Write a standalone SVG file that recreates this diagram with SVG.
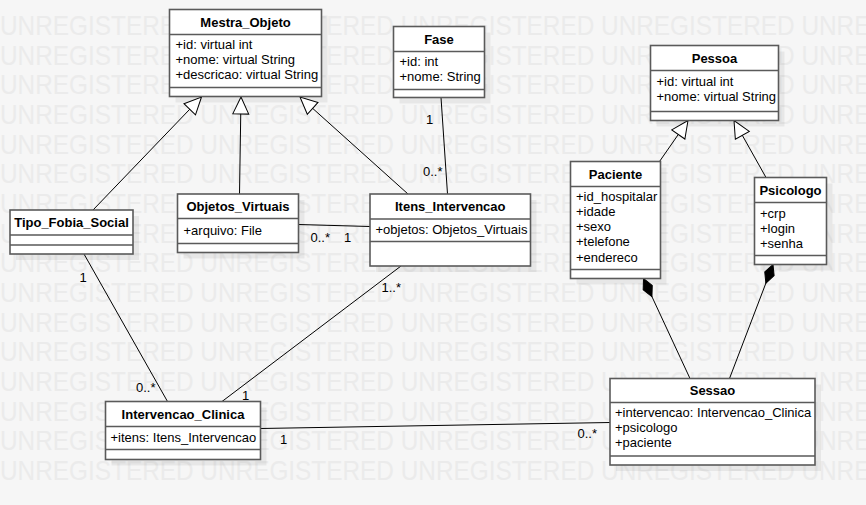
<svg xmlns="http://www.w3.org/2000/svg" width="866" height="505" viewBox="0 0 866 505">
<style>
.wm{font-family:"Liberation Sans",Arial,sans-serif;font-size:28px;fill:#ebebeb}
.box{fill:#ffffff;stroke:#5a5a5a;stroke-width:1.6}
.sep{stroke:#5a5a5a;stroke-width:1.6;fill:none}
.shadow{fill:#000000;fill-opacity:0.06}
.title{font-family:"Liberation Sans",Arial,sans-serif;font-size:13px;font-weight:bold;fill:#000;text-anchor:middle}
.attr{font-family:"Liberation Sans",Arial,sans-serif;font-size:13px;fill:#000}
.lbl{font-family:"Liberation Sans",Arial,sans-serif;font-size:13px;fill:#000}
.edge{stroke:#000;stroke-width:1;fill:none}
.inh{marker-end:url(#tri)}
.comp{marker-end:url(#dia)}
</style>
<defs>
<marker id="tri" markerUnits="userSpaceOnUse" viewBox="-1 -1 20 19" markerWidth="20" markerHeight="19" refX="17" refY="8" orient="auto">
<path d="M0,0 L17,8 L0,16 Z" fill="#fff" stroke="#000" stroke-width="1"/>
</marker>
<marker id="dia" markerUnits="userSpaceOnUse" viewBox="-1 -1 22 12" markerWidth="22" markerHeight="12" refX="20" refY="5" orient="auto">
<path d="M0,5 L10,0 L20,5 L10,10 Z" fill="#000" stroke="#000" stroke-width="1"/>
</marker>
</defs>
<rect x="0" y="0" width="866" height="505" fill="#f6f6f6"/>
<g id="watermark">
<text class="wm" x="0" y="35" textLength="995" lengthAdjust="spacingAndGlyphs">UNREGISTERED UNREGISTERED UNREGISTERED UNREGISTERED UNREGISTERED</text>
<text class="wm" x="0" y="64.7" textLength="995" lengthAdjust="spacingAndGlyphs">UNREGISTERED UNREGISTERED UNREGISTERED UNREGISTERED UNREGISTERED</text>
<text class="wm" x="0" y="94.3" textLength="995" lengthAdjust="spacingAndGlyphs">UNREGISTERED UNREGISTERED UNREGISTERED UNREGISTERED UNREGISTERED</text>
<text class="wm" x="0" y="124" textLength="995" lengthAdjust="spacingAndGlyphs">UNREGISTERED UNREGISTERED UNREGISTERED UNREGISTERED UNREGISTERED</text>
<text class="wm" x="0" y="153.7" textLength="995" lengthAdjust="spacingAndGlyphs">UNREGISTERED UNREGISTERED UNREGISTERED UNREGISTERED UNREGISTERED</text>
<text class="wm" x="0" y="183.3" textLength="995" lengthAdjust="spacingAndGlyphs">UNREGISTERED UNREGISTERED UNREGISTERED UNREGISTERED UNREGISTERED</text>
<text class="wm" x="0" y="213" textLength="995" lengthAdjust="spacingAndGlyphs">UNREGISTERED UNREGISTERED UNREGISTERED UNREGISTERED UNREGISTERED</text>
<text class="wm" x="0" y="242.7" textLength="995" lengthAdjust="spacingAndGlyphs">UNREGISTERED UNREGISTERED UNREGISTERED UNREGISTERED UNREGISTERED</text>
<text class="wm" x="0" y="272.3" textLength="995" lengthAdjust="spacingAndGlyphs">UNREGISTERED UNREGISTERED UNREGISTERED UNREGISTERED UNREGISTERED</text>
<text class="wm" x="0" y="302" textLength="995" lengthAdjust="spacingAndGlyphs">UNREGISTERED UNREGISTERED UNREGISTERED UNREGISTERED UNREGISTERED</text>
<text class="wm" x="0" y="331.7" textLength="995" lengthAdjust="spacingAndGlyphs">UNREGISTERED UNREGISTERED UNREGISTERED UNREGISTERED UNREGISTERED</text>
<text class="wm" x="0" y="361.3" textLength="995" lengthAdjust="spacingAndGlyphs">UNREGISTERED UNREGISTERED UNREGISTERED UNREGISTERED UNREGISTERED</text>
<text class="wm" x="0" y="391" textLength="995" lengthAdjust="spacingAndGlyphs">UNREGISTERED UNREGISTERED UNREGISTERED UNREGISTERED UNREGISTERED</text>
<text class="wm" x="0" y="420.7" textLength="995" lengthAdjust="spacingAndGlyphs">UNREGISTERED UNREGISTERED UNREGISTERED UNREGISTERED UNREGISTERED</text>
<text class="wm" x="0" y="450.3" textLength="995" lengthAdjust="spacingAndGlyphs">UNREGISTERED UNREGISTERED UNREGISTERED UNREGISTERED UNREGISTERED</text>
<text class="wm" x="0" y="480" textLength="995" lengthAdjust="spacingAndGlyphs">UNREGISTERED UNREGISTERED UNREGISTERED UNREGISTERED UNREGISTERED</text>
</g>
<g id="shadows">
<rect class="shadow" x="175.5" y="15.5" width="152" height="87"/>
<rect class="shadow" x="399.5" y="32.5" width="91" height="71"/>
<rect class="shadow" x="656.5" y="51.5" width="128" height="75"/>
<rect class="shadow" x="576.5" y="167.5" width="90" height="117"/>
<rect class="shadow" x="760.5" y="183.5" width="72" height="87"/>
<rect class="shadow" x="16" y="216" width="123" height="44"/>
<rect class="shadow" x="183.5" y="200" width="121" height="58.5"/>
<rect class="shadow" x="376" y="200" width="160.5" height="72"/>
<rect class="shadow" x="111.5" y="407.5" width="155" height="58"/>
<rect class="shadow" x="616" y="384.5" width="205" height="86.5"/>
</g>
<g id="connectors">
<path class="edge inh" d="M93,210 L201.5,97"/>
<path class="edge inh" d="M239.5,194 L241,97"/>
<path class="edge inh" d="M408,194 L300,97"/>
<path class="edge inh" d="M659.5,161.5 L688,120.5"/>
<path class="edge inh" d="M766,177.5 L734,120.5"/>
<path class="edge" d="M441,97.5 L447.5,194"/>
<path class="edge" d="M298.5,224.5 L370,226.5"/>
<path class="edge" d="M401,266 L222,401.5"/>
<path class="edge" d="M84,254 L167.5,401.5"/>
<path class="edge" d="M260.5,428.5 L610,422.5"/>
<path class="edge comp" d="M690,378.5 L643.5,278.5"/>
<path class="edge comp" d="M729.5,378.5 L773,264.5"/>
<text class="lbl" x="426" y="124">1</text>
<text class="lbl" x="423" y="176">0..*</text>
<text class="lbl" x="310.5" y="242">0..*</text>
<text class="lbl" x="344" y="242">1</text>
<text class="lbl" x="381.5" y="292">1..*</text>
<text class="lbl" x="242" y="400">1</text>
<text class="lbl" x="79.5" y="282">1</text>
<text class="lbl" x="136" y="392">0..*</text>
<text class="lbl" x="280" y="444">1</text>
<text class="lbl" x="577.5" y="438">0..*</text>
</g>
<g id="Mestra_Objeto">
<rect class="box" x="169.5" y="9.5" width="152" height="87"/>
<path class="sep" d="M169.5,34.5 H321.5 M169.5,87.5 H321.5"/>
<text class="title" x="245.5" y="26.5">Mestra_Objeto</text>
<text class="attr" x="175.5" y="48.5">+id: virtual int</text>
<text class="attr" x="175.5" y="63.8">+nome: virtual String</text>
<text class="attr" x="175.5" y="79.1">+descricao: virtual String</text>
</g>
<g id="Fase">
<rect class="box" x="393.5" y="26.5" width="91" height="71"/>
<path class="sep" d="M393.5,51.5 H484.5 M393.5,89.5 H484.5"/>
<text class="title" x="439" y="43.5">Fase</text>
<text class="attr" x="399.5" y="65.5">+id: int</text>
<text class="attr" x="399.5" y="80.8">+nome: String</text>
</g>
<g id="Pessoa">
<rect class="box" x="650.5" y="45.5" width="128" height="75"/>
<path class="sep" d="M650.5,70.5 H778.5 M650.5,111.5 H778.5"/>
<text class="title" x="714.5" y="62.5">Pessoa</text>
<text class="attr" x="656.5" y="86">+id: virtual int</text>
<text class="attr" x="656.5" y="101.3">+nome: virtual String</text>
</g>
<g id="Paciente">
<rect class="box" x="570.5" y="161.5" width="90" height="117"/>
<path class="sep" d="M570.5,186.5 H660.5 M570.5,269.5 H660.5"/>
<text class="title" x="615.5" y="178.5">Paciente</text>
<text class="attr" x="576" y="200.5">+id_hospitalar</text>
<text class="attr" x="576" y="215.8">+idade</text>
<text class="attr" x="576" y="231.1">+sexo</text>
<text class="attr" x="576" y="246.4">+telefone</text>
<text class="attr" x="576" y="261.7">+endereco</text>
</g>
<g id="Psicologo">
<rect class="box" x="754.5" y="177.5" width="72" height="87"/>
<path class="sep" d="M754.5,202.5 H826.5 M754.5,255.5 H826.5"/>
<text class="title" x="790.5" y="194.5">Psicologo</text>
<text class="attr" x="760" y="217.5">+crp</text>
<text class="attr" x="760" y="232.8">+login</text>
<text class="attr" x="760" y="248.1">+senha</text>
</g>
<g id="Tipo_Fobia_Social">
<rect class="box" x="10" y="210" width="123" height="44"/>
<path class="sep" d="M10,235 H133 M10,245 H133"/>
<text class="title" x="71.5" y="227">Tipo_Fobia_Social</text>
</g>
<g id="Objetos_Virtuais">
<rect class="box" x="177.5" y="194" width="121" height="58.5"/>
<path class="sep" d="M177.5,218.5 H298.5 M177.5,243.5 H298.5"/>
<text class="title" x="238" y="211">Objetos_Virtuais</text>
<text class="attr" x="183.5" y="234.5">+arquivo: File</text>
</g>
<g id="Itens_Intervencao">
<rect class="box" x="370" y="194" width="160.5" height="72"/>
<path class="sep" d="M370,219 H530.5 M370,241.5 H530.5"/>
<text class="title" x="450.25" y="211">Itens_Intervencao</text>
<text class="attr" x="375.5" y="234">+objetos: Objetos_Virtuais</text>
</g>
<g id="Intervencao_Clinica">
<rect class="box" x="105.5" y="401.5" width="155" height="58"/>
<path class="sep" d="M105.5,426.5 H260.5 M105.5,449.5 H260.5"/>
<text class="title" x="183" y="418.5">Intervencao_Clinica</text>
<text class="attr" x="110.5" y="442">+itens: Itens_Intervencao</text>
</g>
<g id="Sessao">
<rect class="box" x="610" y="378.5" width="205" height="86.5"/>
<path class="sep" d="M610,402.5 H815 M610,456 H815"/>
<text class="title" x="712.5" y="395">Sessao</text>
<text class="attr" x="615" y="416.5">+intervencao: Intervencao_Clinica</text>
<text class="attr" x="615" y="431.8">+psicologo</text>
<text class="attr" x="615" y="447.1">+paciente</text>
</g>
</svg>
